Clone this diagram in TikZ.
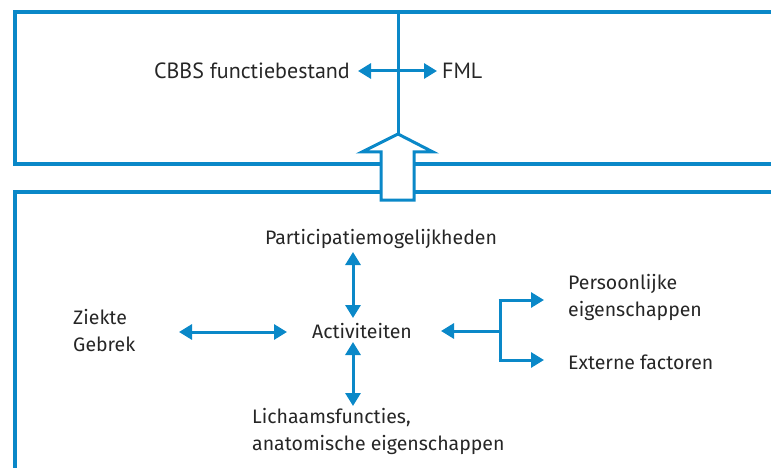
\documentclass[tikz,border=0pt]{standalone}
\usepackage{fontspec}
\setmainfont{Fira Sans}
\newfontfamily\topfont{PT Sans}
\usetikzlibrary{arrows.meta,calc}
\definecolor{lblue}{HTML}{0A88C8}
\begin{document}
\begin{tikzpicture}[x=1pt,y=-1pt,
  boxline/.style={draw=lblue,line width=3.2pt},
  conn/.style={draw=lblue,line width=3pt,{Triangle[width=15pt,length=13pt]}-{Triangle[width=15pt,length=13pt]}},
  conn1/.style={draw=lblue,line width=3pt,-{Triangle[width=15pt,length=13pt]}},
  plain/.style={draw=lblue,line width=3pt},
  lbl/.style={inner sep=0pt,font=\fontsize{19.5}{27}\selectfont,text=black!85,align=left},
  toplbl/.style={inner sep=0pt,font=\topfont\fontsize{22}{26}\selectfont,text=black!85}]
\useasboundingbox (0,0) rectangle (771,468);
% boxes
\draw[boxline] (780,12) -- (15,12) -- (15,164) -- (780,164);
\draw[boxline] (780,192) -- (15,192) -- (15,480);
% top vertical line
\coordinate (vtop) at (398,12);
\coordinate (vtip) at (398,134);
\draw[plain] (vtop) -- (vtip);
% big hollow arrow
\draw[plain,fill=white,line join=miter]
  (398,134) -- (433,152) -- (414,152) -- (414,200) -- (381,200) -- (381,152) -- (362,152) -- cycle;
% top labels
\node[toplbl,anchor=east] (cbbs) at (350,71) {CBBS functiebestand};
\node[toplbl,anchor=west] (fml) at (442,71) {FML};
\coordinate (cl) at (358,71);
\coordinate (cr) at (437,71);
\draw[conn] (cl) -- (cr);
% lower labels
\node[lbl,anchor=center] (part) at (381,239) {Participatiemogelijkheden};
\node[lbl,anchor=center] (act) at (362,331) {Activiteiten};
\node[lbl,anchor=north west] (ziek) at (73,309) {Ziekte\\Gebrek};
\node[lbl,anchor=north west] (lich) at (252,408) {Lichaamsfuncties,\\anatomische eigenschappen};
\node[lbl,anchor=north west] (pers) at (568,274) {Persoonlijke\\eigenschappen};
\node[lbl,anchor=west] (ext) at (568,362) {Externe factoren};
% connectors
\draw[conn] (353,252) -- (353,318);
\draw[conn] (353,342) -- (353,406);
\draw[conn] (179,332) -- (287,332);
\coordinate (br) at (500,331);
\coordinate (bt) at (500,300);
\coordinate (bb) at (500,360);
\draw[conn1] (br) -- (441,331);
\draw[plain] (bt) -- (bb);
\draw[conn1] ([xshift=-1.5pt]bt) -- (544,300);
\draw[conn1] ([xshift=-1.5pt]bb) -- (544,360);
\end{tikzpicture}
\end{document}
